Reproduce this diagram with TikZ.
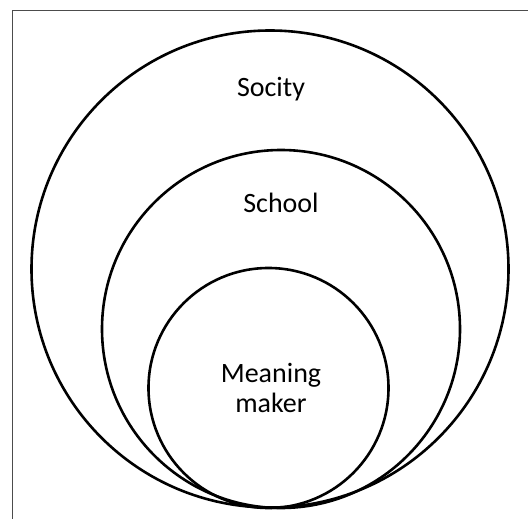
\documentclass[tikz,border=0pt]{standalone}
\usepackage{fontspec}
\setmainfont{Carlito}
\begin{document}
\begin{tikzpicture}[x=1pt,y=-1pt,
  ring/.style={draw=black,line width=2.6pt},
  frame/.style={draw=black!70,line width=1.5pt},
  label/.style={font=\fontsize{28}{30}\selectfont,anchor=base,inner sep=0pt,align=center}]
  \useasboundingbox (0,0) rectangle (528,519);
  % partial frame: top and left edges
  \draw[frame] (528,10.7) -- (12.3,10.7) -- (12.3,519);
  % nested circles touching at the bottom
  \draw[ring] (270,269) circle[radius=238.5];
  \draw[ring] (281,329) circle[radius=179];
  \draw[ring] (268.5,388) circle[radius=120];
  % labels
  \node[label] (society) at (271,97) {Socity};
  \node[label] (school) at (281,212) {School};
  \node[label] (meaning) at (271,382) {Meaning};
  \node[label] (maker) at (271,412) {maker};
\end{tikzpicture}
\end{document}
